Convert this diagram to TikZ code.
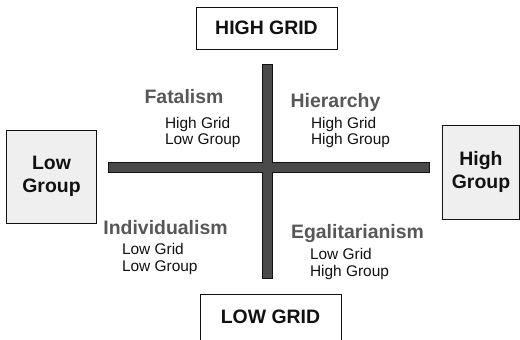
\documentclass[tikz,border=0pt]{standalone}
\usepackage{fontspec}
\setmainfont{Liberation Sans}
\definecolor{ink}{HTML}{111111}
\definecolor{type}{HTML}{575757}
\definecolor{bar}{HTML}{4A4A4A}
\definecolor{pale}{HTML}{EFEFEF}
\newcommand{\notefont}{\fontsize{15.5}{16.5}\selectfont}
\newcommand{\headfont}{\fontsize{19.5}{23.5}\selectfont\bfseries}
\tikzset{
  every node/.style={font=\notefont,text=ink,inner sep=0pt,outer sep=0pt},
  gridbox/.style={draw=ink,line width=1bp,fill=white,font=\headfont,minimum width=141bp},
  groupbox/.style={draw=ink,line width=1bp,fill=pale,font=\headfont,align=center},
  culture/.style={font=\headfont,text=type,anchor=base},
  note/.style={align=left,anchor=north west}
}

\begin{document}
\begin{tikzpicture}[x=1bp,y=-1bp]

\path[use as bounding box] (0,0) rectangle (520,339);
\clip (0,0) rectangle (520,339);
% Grid axis top and bottom, group axis left and right.
\node[gridbox,minimum height=42bp] (highgrid) at (266.5,28) {HIGH GRID};
\node[gridbox,minimum height=46bp,anchor=north] (lowgrid) at (270.5,294) {LOW GRID};
\node[groupbox,minimum width=89bp,minimum height=93bp] (lowgroup) at (51.5,176.5) {Low\\Group};
\node[groupbox,minimum width=77bp,minimum height=94bp] (highgroup) at (481,172) {High\\Group};

% The cross as one outline.
\draw[fill=bar,draw=ink,line width=.8bp]
  (262,64) -- (272,64) -- (272,162) -- (429,162) -- (429,172) -- (272,172)
  -- (272,278) -- (262,278) -- (262,172) -- (108,172) -- (108,162) -- (262,162) -- cycle;

% Quadrants.
\node[culture] (fatalism) at (184,103) {Fatalism};
\node[note] (fatalnote) at (165,117) {High Grid\\Low Group};
\node[culture] (hierarchy) at (335.5,107) {Hierarchy};
\node[note] (hiernote) at (311,117) {High Grid\\High Group};
\node[culture] (individualism) at (165.5,234) {Individualism};
\node[note] (indivnote) at (122,243.5) {Low Grid\\Low Group};
\node[culture] (egalitarianism) at (357.5,238) {Egalitarianism};
\node[note] (egalnote) at (310,248.5) {Low Grid\\High Group};
\end{tikzpicture}
\end{document}
